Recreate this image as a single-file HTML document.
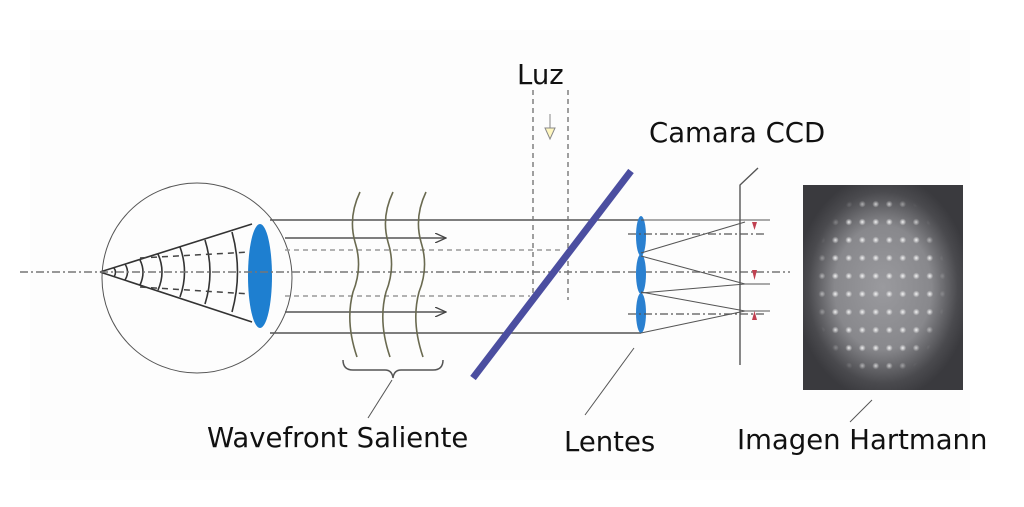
<!DOCTYPE html>
<html><head><meta charset="utf-8"><style>
html,body{margin:0;padding:0;background:#fff;}
svg{display:block}
text{font-family:"DejaVu Sans","Liberation Sans",sans-serif;fill:#111;font-size:27.5px}
</style></head><body>
<svg width="1024" height="507" viewBox="0 0 1024 507" xmlns="http://www.w3.org/2000/svg">
<defs>
<radialGradient id="glow" cx="50%" cy="50%" r="55%">
<stop offset="0" stop-color="#9a9a9e"/><stop offset="0.55" stop-color="#88888c"/><stop offset="0.85" stop-color="#4a4a4e"/><stop offset="1" stop-color="#3a3a3e"/>
</radialGradient>
<radialGradient id="dot"><stop offset="0" stop-color="#fff" stop-opacity="0.9"/><stop offset="1" stop-color="#fff" stop-opacity="0"/></radialGradient>
<pattern id="spots" x="815" y="195" width="13.5" height="18" patternUnits="userSpaceOnUse">
<circle cx="6.75" cy="9" r="3.5" fill="url(#dot)"/></pattern>
<radialGradient id="mg"><stop offset="0" stop-color="#fff"/><stop offset="0.8" stop-color="#fff"/><stop offset="1" stop-color="#000"/></radialGradient>
<mask id="mk"><ellipse cx="880" cy="285" rx="66" ry="96" fill="url(#mg)"/></mask>
<marker id="ar" markerWidth="12" markerHeight="10" refX="11" refY="5" orient="auto" markerUnits="userSpaceOnUse">
<path d="M0,0 L11,5 L0,10" fill="none" stroke="#444" stroke-width="1.3"/></marker>
</defs>
<rect x="30" y="30" width="940" height="450" fill="#fdfdfd"/>
<circle cx="197" cy="278" r="95" fill="none" stroke="#555" stroke-width="1"/>
<g stroke="#333" stroke-width="1.6" fill="none">
<line x1="100" y1="272" x2="252" y2="224"/>
<line x1="100" y1="272" x2="252" y2="322"/>
<path d="M114,268 q3,4 0,9"/><path d="M125,264 q5,8 0,16"/><path d="M140,260 q6,12 0,25"/>
<path d="M158,254 q8,18 0,36"/><path d="M180,247 q9,25 0,50"/><path d="M205,240 q10,32 0,64"/><path d="M232,232 q11,40 0,80"/>
</g>
<g stroke="#444" stroke-width="1.5" stroke-dasharray="6,5"><line x1="140" y1="258" x2="250" y2="252"/><line x1="140" y1="287" x2="250" y2="294"/></g>
<ellipse cx="260" cy="276" rx="12" ry="52" fill="#1e7fd0"/>
<g stroke="#555" stroke-width="1.5">
<line x1="270" y1="220" x2="641" y2="220"/><line x1="270" y1="333" x2="641" y2="333"/>
<line x1="285" y1="238" x2="446" y2="238" marker-end="url(#ar)"/>
<line x1="285" y1="312" x2="446" y2="312" marker-end="url(#ar)"/>
</g>
<g stroke="#999" stroke-width="1.5" stroke-dasharray="5,4"><line x1="285" y1="250" x2="560" y2="250"/><line x1="285" y1="296" x2="530" y2="296"/></g>
<line x1="20" y1="272" x2="790" y2="272" stroke="#777" stroke-width="1.6" stroke-dasharray="8,3,2,3"/>
<g stroke="#6a6a50" stroke-width="1.6" fill="none">
<path d="M360,192 q-12,25 -5,50 q8,25 -2,50 q-8,30 4,65"/>
<path d="M393,192 q-12,25 -5,50 q8,25 -2,50 q-8,30 4,65"/>
<path d="M426,192 q-12,25 -5,50 q8,25 -2,50 q-8,30 4,65"/>
</g>
<path d="M343,360 q0,10 10,10 L385,370 q7,0 8,8 q1,-8 8,-8 L433,370 q10,0 10,-10" fill="none" stroke="#555" stroke-width="1.5"/>
<line x1="392" y1="380" x2="368" y2="418" stroke="#555" stroke-width="1"/>
<g stroke="#777" stroke-width="1.4" stroke-dasharray="5,4"><line x1="533" y1="90" x2="533" y2="300"/><line x1="568" y1="90" x2="568" y2="300"/></g>
<line x1="550" y1="114" x2="550" y2="128" stroke="#888" stroke-width="1"/>
<path d="M545,128 L555,128 L550,139 Z" fill="#fff7c0" stroke="#888" stroke-width="1"/>
<line x1="631" y1="171" x2="473" y2="378" stroke="#4b4ea0" stroke-width="7"/>
<g fill="#2a80d0"><ellipse cx="641" cy="236" rx="5" ry="20"/><ellipse cx="641" cy="274" rx="5" ry="20"/><ellipse cx="641" cy="313" rx="5" ry="20"/></g>
<g stroke="#555" stroke-width="1.2" stroke-dasharray="8,3,2,3"><line x1="628" y1="234" x2="766" y2="234"/><line x1="628" y1="314" x2="766" y2="314"/></g>
<g stroke="#555" stroke-width="1.1" fill="none">
<line x1="641" y1="220" x2="770" y2="220"/>
<polyline points="641,253 745,222"/><polyline points="641,256 745,284 641,293"/><polyline points="641,292 745,311 641,333"/>
<line x1="745" y1="284" x2="770" y2="284"/><line x1="745" y1="311" x2="770" y2="311"/>
</g>
<g fill="#c04050"><path d="M752,222 l5,0 l-2.5,8z"/><path d="M752,270 l5,0 l-2.5,10z"/><path d="M752,320 l5,0 l-2.5,-9z"/></g>
<polyline points="758,168 740,185 740,365" fill="none" stroke="#555" stroke-width="1.4"/>
<line x1="634" y1="348" x2="585" y2="415" stroke="#555" stroke-width="1"/>
<rect x="803" y="185" width="160" height="205" fill="url(#glow)"/>
<rect x="803" y="185" width="160" height="205" fill="url(#spots)" mask="url(#mk)"/>
<line x1="872" y1="400" x2="850" y2="422" stroke="#555" stroke-width="1"/>
<text x="517" y="84">Luz</text>
<text x="649" y="142">Camara CCD</text>
<text x="207" y="447">Wavefront Saliente</text>
<text x="564" y="451">Lentes</text>
<text x="737" y="449">Imagen Hartmann</text>
</svg>
</body></html>
